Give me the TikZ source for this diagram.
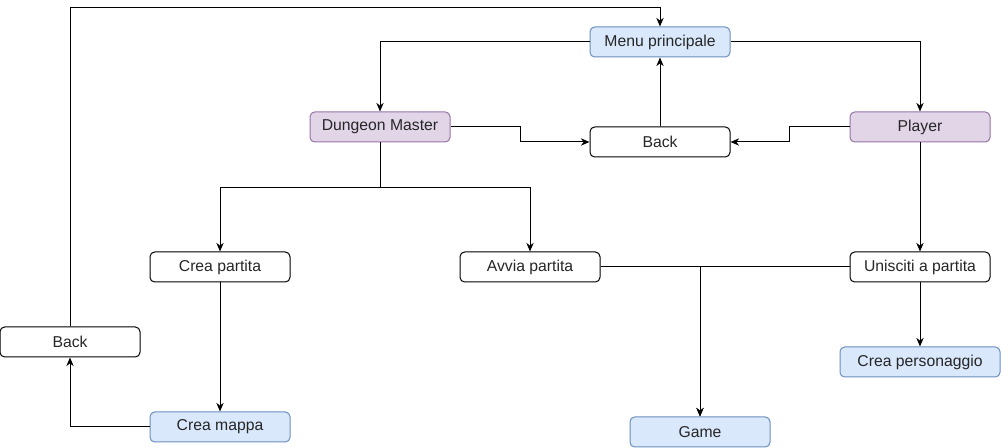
\documentclass[tikz,border=0pt]{standalone}
\usepackage{fontspec}
\setmainfont{Liberation Sans}
\usetikzlibrary{arrows.meta}
\definecolor{bfill}{HTML}{DAE8FC}
\definecolor{bdraw}{HTML}{6C8EBF}
\definecolor{pfill}{HTML}{E1D5E7}
\definecolor{pdraw}{HTML}{9673A6}
\begin{document}
\begin{tikzpicture}[x=0.75pt,y=-0.75pt,
  box/.style={draw=black, fill=white, rounded corners=3.5pt, minimum width=105pt, minimum height=22.5pt, inner sep=0pt, font=\fontsize{11.8}{13}\selectfont, line width=0.75pt, text=black!85},
  bluebox/.style={box, fill=bfill, draw=bdraw},
  purplebox/.style={box, fill=pfill, draw=pdraw},
  conn/.style={line width=0.75pt, -{Stealth[length=6.5pt,width=5.5pt]}}]
\useasboundingbox (0,0) rectangle (1001,448);
\node[bluebox] (menu) at (660,42) {Menu principale};
\node[purplebox] (dm) at (380,127) {Dungeon Master};
\node[box] (back) at (660,142) {Back};
\node[purplebox] (player) at (920,127) {Player};
\node[box] (cp) at (220,267) {Crea partita};
\node[box] (ap) at (530,267) {Avvia partita};
\node[box] (un) at (920,267) {Unisciti a partita};
\node[box] (backl) at (70,342) {Back};
\node[bluebox] (cm) at (220,427) {Crea mappa};
\node[bluebox, minimum width=120pt] (pers) at (920,362) {Crea personaggio};
\node[bluebox] (game) at (700,432) {Game};

\draw[conn] (menu.west) -| (dm.north);
\draw[conn] (menu.east) -| (player.north);
\draw[conn] (dm.east) -- ++(70,0) |- (back.west);
\draw[conn] (player.west) -- ++(-60,0) |- (back.east);
\draw[conn] (back.north) -- (menu.south);
\draw[conn] (dm.south) -- ++(0,45) -| (cp.north);
\draw[conn] (dm.south) -- ++(0,45) -| (ap.north);
\draw[conn] (cp.south) -- (cm.north);
\draw[conn] (cm.west) -| (backl.south);
\draw[conn] (backl.north) -- ++(0,-319) -| (menu.north);
\draw[conn] (player.south) -- (un.north);
\draw[conn] (un.south) -- (pers.north);
\draw[conn] (ap.east) -| (game.north);
\draw[conn] (un.west) -| (game.north);
\end{tikzpicture}
\end{document}
